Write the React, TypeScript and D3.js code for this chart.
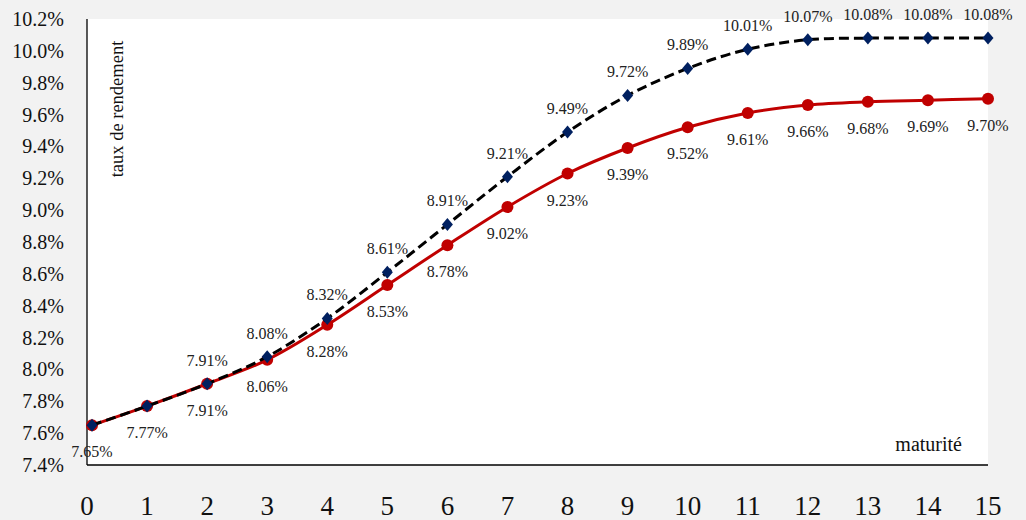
import { useRef, useEffect } from 'react';
import * as d3 from 'd3';

// maturités (le premier point est à 1 mois)
const maturities = [1 / 12, 1, 2, 3, 4, 5, 6, 7, 8, 9, 10, 11, 12, 13, 14, 15];
const seriesDashed = [7.65, 7.77, 7.91, 8.08, 8.32, 8.61, 8.91, 9.21, 9.49, 9.72, 9.89, 10.01, 10.07, 10.08, 10.08, 10.08];
const seriesRed = [7.65, 7.77, 7.91, 8.06, 8.28, 8.53, 8.78, 9.02, 9.23, 9.39, 9.52, 9.61, 9.66, 9.68, 9.69, 9.70];
const xTicks = d3.range(0, 16);
const yTicks = d3.range(7.4, 10.21, 0.2);

export default function App() {
    const ref = useRef<SVGSVGElement>(null);

    useEffect(() => {
        if (!ref.current) return;
        const svg = d3.select(ref.current);
        svg.selectAll('*').remove();

        const width = 1026;
        const height = 520;
        const font = '"Liberation Serif", "Times New Roman", serif';

        const x = d3.scaleLinear().domain([0, 15]).range([87, 988]);
        const y = d3.scaleLinear().domain([7.4, 10.2]).range([465, 19]);

        svg.attr('width', width).attr('height', height);

        // background
        svg.append('rect').attr('width', width).attr('height', height).attr('fill', '#f2f2f2');
        svg.append('rect')
            .attr('x', x(0)).attr('y', y(10.2))
            .attr('width', x(15) - x(0)).attr('height', y(7.4) - y(10.2))
            .attr('fill', '#fff');

        // axes
        svg.append('line')
            .attr('x1', x(0)).attr('x2', x(0)).attr('y1', y(10.2)).attr('y2', y(7.4))
            .attr('stroke', '#000').attr('stroke-width', 1.3);
        svg.append('line')
            .attr('x1', x(0)).attr('x2', x(15)).attr('y1', y(7.4)).attr('y2', y(7.4))
            .attr('stroke', '#000').attr('stroke-width', 1.3);

        // y tick labels
        svg.append('g')
            .selectAll('text')
            .data(yTicks)
            .enter()
            .append('text')
            .attr('x', 64)
            .attr('y', d => y(d) + 7)
            .attr('text-anchor', 'end')
            .attr('font-family', font)
            .attr('font-size', 20)
            .attr('fill', '#111')
            .text(d => `${d.toFixed(1)}%`);

        // x tick labels
        svg.append('g')
            .selectAll('text')
            .data(xTicks)
            .enter()
            .append('text')
            .attr('x', d => x(d))
            .attr('y', 515)
            .attr('text-anchor', 'middle')
            .attr('font-family', font)
            .attr('font-size', 27)
            .attr('fill', '#111')
            .text(d => d);

        // axis titles
        svg.append('text')
            .attr('transform', `translate(123,109) rotate(-90)`)
            .attr('text-anchor', 'middle')
            .attr('font-family', font)
            .attr('font-size', 18.5)
            .attr('fill', '#111')
            .text('taux de rendement');

        svg.append('text')
            .attr('x', 962)
            .attr('y', 451)
            .attr('text-anchor', 'end')
            .attr('font-family', font)
            .attr('font-size', 20)
            .attr('fill', '#111')
            .text('maturité');

        const line = d3.line<number>()
            .x((_, i) => x(maturities[i]))
            .y(d => y(d))
            .curve(d3.curveCatmullRom.alpha(0.5));

        // red solid series
        svg.append('path')
            .datum(seriesRed)
            .attr('d', line)
            .attr('fill', 'none')
            .attr('stroke', '#c00000')
            .attr('stroke-width', 3);

        svg.append('g')
            .selectAll('circle')
            .data(seriesRed)
            .enter()
            .append('circle')
            .attr('cx', (_, i) => x(maturities[i]))
            .attr('cy', d => y(d))
            .attr('r', 6)
            .attr('fill', '#c00000');

        // dashed series
        svg.append('path')
            .datum(seriesDashed)
            .attr('d', line)
            .attr('fill', 'none')
            .attr('stroke', '#000')
            .attr('stroke-width', 3)
            .attr('stroke-dasharray', '10,5');

        const diamondPath = 'M0,-6.5L5.5,0L0,6.5L-5.5,0Z';
        svg.append('g')
            .selectAll('path')
            .data(seriesDashed)
            .enter()
            .append('path')
            .attr('d', diamondPath)
            .attr('transform', (d, i) => `translate(${x(maturities[i])},${y(d)})`)
            .attr('fill', '#002060');

        // data labels
        svg.append('g')
            .selectAll('text')
            .data(seriesRed)
            .enter()
            .append('text')
            .attr('x', (_, i) => x(maturities[i]))
            .attr('y', d => y(d) + 32)
            .attr('text-anchor', 'middle')
            .attr('font-family', font)
            .attr('font-size', 16)
            .attr('fill', '#222')
            .text(d => `${d.toFixed(2)}%`);

        svg.append('g')
            .selectAll('text')
            .data(seriesDashed.map((v, i) => ({ v, i })).filter(d => d.i >= 2))
            .enter()
            .append('text')
            .attr('x', d => x(maturities[d.i]))
            .attr('y', d => y(d.v) - 18)
            .attr('text-anchor', 'middle')
            .attr('font-family', font)
            .attr('font-size', 16)
            .attr('fill', '#222')
            .text(d => `${d.v.toFixed(2)}%`);
    }, []);

    return (
        <div style={{ position: 'absolute', left: 0, top: 0 }}>
            <svg ref={ref} style={{ display: 'block' }}></svg>
        </div>
    );
}
